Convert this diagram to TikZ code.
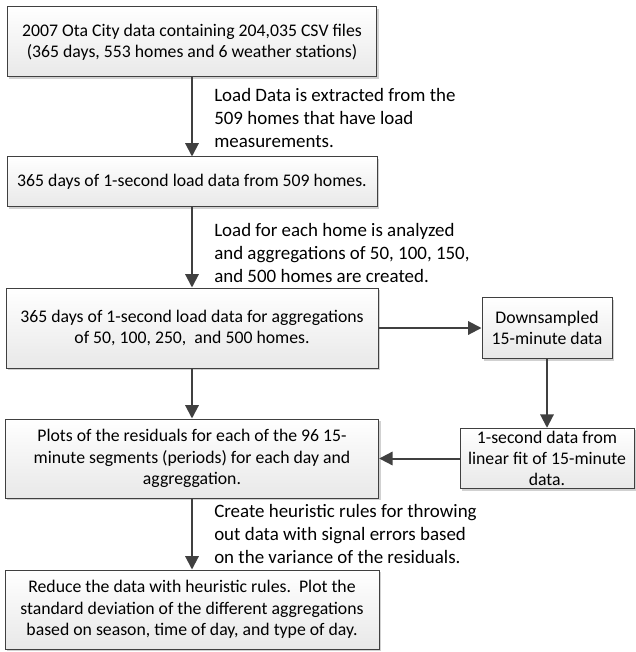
\documentclass[tikz,border=0pt]{standalone}
\usepackage{fontspec}
\setmainfont{Carlito}
\usetikzlibrary{arrows.meta,shadows}
\definecolor{linegray}{HTML}{404040}
\begin{document}
\begin{tikzpicture}[
    x=0.75pt, y=-0.75pt,
    databox/.style={
        rectangle,
        draw=linegray,
        line width=0.75pt,
        top color=white,
        bottom color=black!9,
        drop shadow={shadow xshift=1.5pt, shadow yshift=-1.5pt, fill=black!18, opacity=1},
        font=\fontsize{13.3}{16}\selectfont,
        align=center,
        inner sep=2pt
    },
    flowarrow/.style={
        draw=linegray,
        line width=1.5pt,
        -{Triangle[length=10pt,width=10pt]}
    },
    note/.style={
        anchor=west,
        align=left,
        font=\fontsize{14.2}{17.2}\selectfont,
        inner sep=0pt
    }
]
\useasboundingbox (0,0) rectangle (635,652);

\node[databox, minimum width=277pt, minimum height=52.5pt] (otadata) at (192,42)
    {2007 Ota City data containing 204,035 CSV files\\(365 days, 553 homes and 6 weather stations)};
\node[databox, minimum width=277.5pt, minimum height=37.5pt] (loaddata) at (192,182)
    {365 days of 1-second load data from 509 homes.};
\node[databox, minimum width=279pt, minimum height=60pt] (aggdata) at (192,328)
    {365 days of 1-second load data for aggregations\\of 50, 100, 250,\ \ and 500 homes.};
\node[databox, minimum width=97.5pt, minimum height=45.75pt] (downsampled) at (547,328)
    {Downsampled\\15-minute data};
\node[databox, minimum width=130.5pt, minimum height=45pt] (linfit) at (547,458.5)
    {1-second data from\\linear fit of 15-minute\\data.};
\node[databox, minimum width=280pt, minimum height=59.25pt] (residuals) at (192,458.5)
    {Plots of the residuals for each of the 96 15-\\minute segments (periods) for each day and\\aggreggation.};
\node[databox, minimum width=280.5pt, minimum height=59.25pt] (reduce) at (192,609.5)
    {Reduce the data with heuristic rules.\ \ Plot the\\standard deviation of the different aggregations\\based on season, time of day, and type of day.};

\node[note] (extractnote) at (214,118)
    {Load Data is extracted from the\\509 homes that have load\\measurements.};
\node[note] (aggnote) at (214,253)
    {Load for each home is analyzed\\and aggregations of 50, 100, 150,\\and 500 homes are created.};
\node[note] (rulenote) at (214,534)
    {Create heuristic rules for throwing\\out data with signal errors based\\on the variance of the residuals.};

\draw[flowarrow] (otadata) -- (loaddata);
\draw[flowarrow] (loaddata) -- (aggdata);
\draw[flowarrow] (aggdata) -- (downsampled);
\draw[flowarrow] (downsampled) -- (linfit);
\draw[flowarrow] (aggdata) -- (residuals);
\draw[flowarrow] (linfit) -- (residuals);
\draw[flowarrow] (residuals) -- (reduce);

\end{tikzpicture}
\end{document}
